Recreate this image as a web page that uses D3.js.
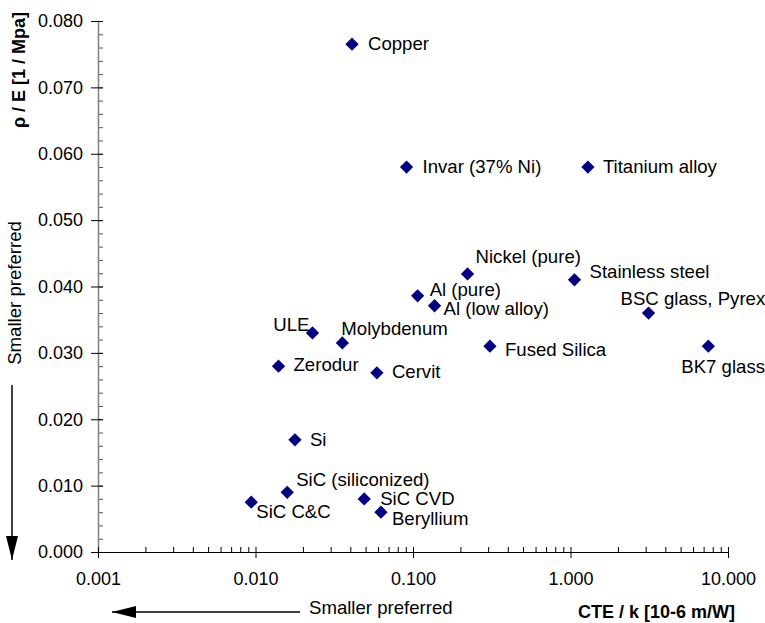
<!DOCTYPE html>
<html>
<head>
<meta charset="utf-8" />
<style>
  body { margin: 0; background: white; }
  svg { display: block; font-family: "Liberation Sans", Arial, sans-serif; }
</style>
<script src="https://cdnjs.cloudflare.com/ajax/libs/d3/7.8.5/d3.min.js"></script>
</head>
<body>
<div id="graph"></div>
<script>
// materials, CTE/k and rho/E
var materials = ["Copper", "Invar (37% Ni)", "Titanium alloy", "Nickel (pure)", "Al (pure)",
  "Al (low alloy)", "ULE", "Molybdenum", "Zerodur", "Cervit", "Fused Silica", "Stainless steel",
  "BSC glass, Pyrex", "BK7 glass", "Si", "SiC (siliconized)", "SiC C&C", "SiC CVD", "Beryllium"];
var cteK = [0.041, 0.091, 1.29, 0.222, 0.107, 0.137, 0.023, 0.0356, 0.014, 0.059, 0.308, 1.06,
  3.13, 7.5, 0.0178, 0.0159, 0.0094, 0.049, 0.0626];
var rhoE = [0.0765, 0.058, 0.058, 0.0419, 0.0386, 0.0371, 0.033, 0.0315, 0.028, 0.027, 0.031, 0.041,
  0.036, 0.031, 0.0169, 0.009, 0.0075, 0.008, 0.006];
var xTicks = [0.001, 0.01, 0.1, 1, 10];
var yTicks = [0, 0.01, 0.02, 0.03, 0.04, 0.05, 0.06, 0.07, 0.08];

// where each label sits relative to its marker
var labelPos = {
  "Copper": [16, 6], "Invar (37% Ni)": [16, 6], "Titanium alloy": [15, 6],
  "Nickel (pure)": [8, -11], "Al (pure)": [12, 0], "Al (low alloy)": [9, 9],
  "ULE": [-3, -2, "end"], "Molybdenum": [-1, -8], "Zerodur": [15, 5], "Cervit": [15, 5],
  "Fused Silica": [15, 10], "Stainless steel": [15, -2], "BSC glass, Pyrex": [-28, -8],
  "BK7 glass": [-27, 27], "Si": [15, 6], "SiC (siliconized)": [9, -6], "SiC C&C": [5, 16],
  "SiC CVD": [16, 6], "Beryllium": [11, 13]
};

var data = materials.map(function (m, i) { return { name: m, x: cteK[i], y: rhoE[i] }; });

var w = 765, h = 623;
var plotLeft = 98, plotRight = 728, plotTop = 21, plotBottom = 552;

var x = d3.scaleLog().domain([0.001, 10]).range([plotLeft, plotRight]);
var y = d3.scaleLinear().domain([0, 0.08]).range([plotBottom, plotTop]);

var svg = d3.select("#graph").append("svg")
  .attr("width", w).attr("height", h);

var fmt = d3.format(".3f");

// minor ticks, x (pointing up into the plot)
var xMinor = [];
[0.001, 0.01, 0.1, 1].forEach(function (d) {
  for (var k = 2; k <= 9; k++) xMinor.push(d * k);
});
svg.append("g")
  .attr("transform", "translate(0," + plotBottom + ")")
  .call(d3.axisBottom(x).tickValues(xMinor).tickSize(-5).tickSizeOuter(0).tickFormat(""))
  .call(function (g) { g.select(".domain").remove(); })
  .selectAll(".tick line").attr("stroke", "black");

// minor ticks, y
var yMinor = d3.range(0, 0.0801, 0.002);
svg.append("g")
  .attr("transform", "translate(" + plotLeft + ",0)")
  .call(d3.axisLeft(y).tickValues(yMinor).tickSize(-5).tickSizeOuter(0).tickFormat(""))
  .call(function (g) { g.select(".domain").remove(); })
  .selectAll(".tick line").attr("stroke", "#555");

// y axis
var yAxis = svg.append("g")
  .attr("transform", "translate(" + plotLeft + ",0)")
  .call(d3.axisLeft(y).tickValues(yTicks).tickSize(7).tickSizeOuter(0).tickPadding(8).tickFormat(fmt));
yAxis.select(".domain").attr("stroke", "#808080").attr("stroke-width", 1.5);
yAxis.selectAll(".tick line").attr("x2", 5).attr("x1", -7).attr("stroke", "black");
yAxis.selectAll("text").style("font-size", "18px").attr("fill", "black")
  .style("font-family", "Liberation Sans, Arial, sans-serif");

// x axis
var xAxis = svg.append("g")
  .attr("transform", "translate(0," + plotBottom + ")")
  .call(d3.axisBottom(x).tickValues(xTicks).tickSize(5).tickSizeOuter(0).tickPadding(15).tickFormat(fmt));
xAxis.select(".domain").attr("stroke", "black").attr("stroke-width", 1.2);
xAxis.selectAll(".tick line").attr("y1", -5).attr("y2", 6).attr("stroke", "black");
xAxis.selectAll("text").style("font-size", "18px").attr("fill", "black")
  .style("font-family", "Liberation Sans, Arial, sans-serif");

// markers
svg.selectAll(".pt")
  .data(data)
  .enter().append("path")
  .attr("class", "pt")
  .attr("d", d3.symbol().type(d3.symbolSquare).size(88))
  .attr("transform", function (d) {
    return "translate(" + x(d.x) + "," + y(d.y) + ") rotate(45)";
  })
  .attr("fill", "#000080");

// labels
svg.selectAll(".lbl")
  .data(data)
  .enter().append("text")
  .attr("class", "lbl")
  .attr("x", function (d) { return x(d.x) + labelPos[d.name][0]; })
  .attr("y", function (d) { return y(d.y) + labelPos[d.name][1]; })
  .attr("text-anchor", function (d) { return labelPos[d.name][2] || "start"; })
  .style("font-size", "18.6px")
  .text(function (d) { return d.name; });

// axis titles
svg.append("text")
  .attr("transform", "translate(25,70) rotate(-90)")
  .attr("text-anchor", "middle")
  .style("font-size", "18px").style("font-weight", "bold")
  .text("ρ / E [1 / Mpa]");

svg.append("text")
  .attr("x", 578).attr("y", 618)
  .style("font-size", "18px").style("font-weight", "bold")
  .text("CTE / k [10-6 m/W]");

// "smaller preferred" arrows
var defs = svg.append("defs");
defs.append("marker")
  .attr("id", "head")
  .attr("viewBox", "0 0 24 12")
  .attr("refX", 24).attr("refY", 6)
  .attr("markerWidth", 24).attr("markerHeight", 12)
  .attr("markerUnits", "userSpaceOnUse")
  .attr("orient", "auto")
  .append("path")
  .attr("d", "M0,0 L24,6 L0,12 Z")
  .attr("fill", "black");

svg.append("line")
  .attr("x1", 12).attr("y1", 385).attr("x2", 12).attr("y2", 560)
  .attr("stroke", "black").attr("stroke-width", 1.5)
  .attr("marker-end", "url(#head)");

svg.append("line")
  .attr("x1", 300).attr("y1", 612).attr("x2", 112).attr("y2", 612)
  .attr("stroke", "black").attr("stroke-width", 1.5)
  .attr("marker-end", "url(#head)");

svg.append("text")
  .attr("transform", "translate(21,293) rotate(-90)")
  .attr("text-anchor", "middle")
  .style("font-size", "18.6px")
  .text("Smaller preferred");

svg.append("text")
  .attr("x", 309).attr("y", 614)
  .style("font-size", "18.6px")
  .text("Smaller preferred");
</script>
</body>
</html>
